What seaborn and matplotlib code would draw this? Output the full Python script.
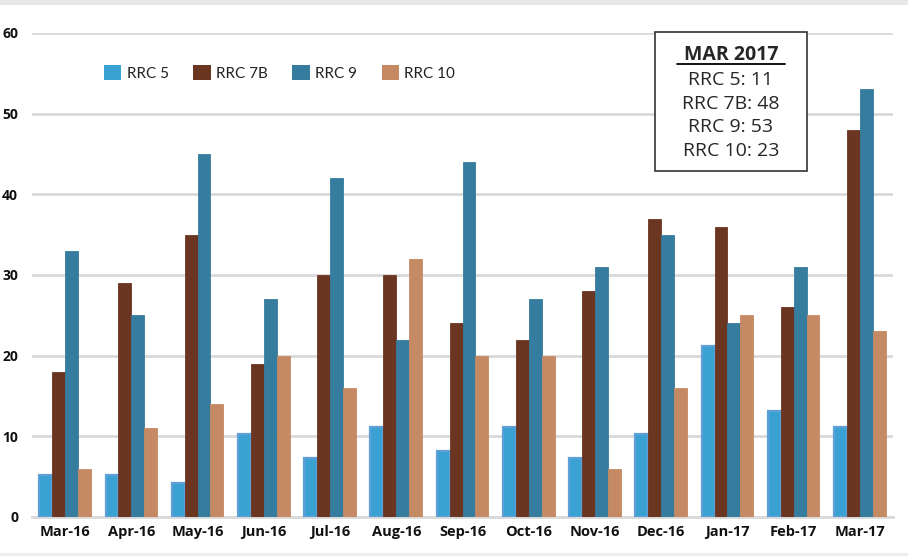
import matplotlib
matplotlib.use("Agg")
import matplotlib.pyplot as plt
import seaborn as sns
import pandas as pd
from matplotlib.patches import Patch

months = ["Mar-16", "Apr-16", "May-16", "Jun-16", "Jul-16", "Aug-16", "Sep-16",
          "Oct-16", "Nov-16", "Dec-16", "Jan-17", "Feb-17", "Mar-17"]
rrc5 = [5.2, 5.2, 4.2, 10.3, 7.3, 11.1, 8.2, 11.1, 7.3, 10.3, 21.2, 13.2, 11.1]
rrc7b = [18, 29, 35, 19, 30, 30, 24, 22, 28, 37, 36, 26, 48]
rrc9 = [33, 25, 45, 27, 42, 22, 44, 27, 31, 35, 24, 31, 53]
rrc10 = [6, 11, 14, 20, 16, 32, 20, 20, 6, 16, 25, 25, 23]
series_names = ["RRC 5", "RRC 7B", "RRC 9", "RRC 10"]
yticks = [0, 10, 20, 30, 40, 50, 60]

rows = []
for name, vals in zip(series_names, [rrc5, rrc7b, rrc9, rrc10]):
    for m, v in zip(months, vals):
        rows.append({"Month": m, "Series": name, "Value": v})
df = pd.DataFrame(rows)

sns.set_style("white")
plt.rcParams["font.family"] = ["Open Sans", "DejaVu Sans"]

colors = ["#3aa2d2", "#6a3621", "#367c9e", "#c58a64"]
edges = ["#5f9fd8", "#6a3621", "#367c9e", "#c58a64"]

fig = plt.figure(figsize=(9.08, 5.56), dpi=100)
ax = fig.add_axes([32 / 908, 39 / 556, 861 / 908, 484 / 556])

sns.barplot(data=df, x="Month", y="Value", hue="Series", order=months,
            hue_order=series_names, palette=colors, width=0.78, gap=0,
            saturation=1, ax=ax, legend=False, zorder=3)

for cont, ec in zip(ax.containers, edges):
    for p in cont:
        p.set_edgecolor(ec)
        p.set_linewidth(1.6 if ec == edges[0] else 0.6)

ax.set_xlim(-0.5, len(months) - 0.5)
ax.set_ylim(0, 60)
ax.set_yticks(yticks)
ax.set_yticklabels([str(t) for t in yticks], fontweight="bold", fontsize=10, color="#111111")
ax.grid(axis="y", color="#d9d9d9", linewidth=2, zorder=0)
ax.set_axisbelow(True)
for s in ["top", "right", "left"]:
    ax.spines[s].set_visible(False)
ax.spines["bottom"].set_color("#d9d9d9")
ax.spines["bottom"].set_linewidth(2)
ax.tick_params(axis="y", length=0, pad=10)
ax.tick_params(axis="x", length=0, pad=6)
ax.set_xticks(range(len(months)))
ax.set_xticklabels(months, fontweight="bold", fontsize=10.5, color="#111111")
ax.set_xticks([i - 0.5 for i in range(len(months) + 1)], minor=True)
ax.tick_params(axis="x", which="minor", length=4, color="#d9d9d9", width=1.5)
ax.set_xlabel("")
ax.set_ylabel("")

# legend
handles = [Patch(facecolor=c, edgecolor="none") for c in colors]
leg = ax.legend(handles, series_names, loc="center left",
                bbox_to_anchor=(58 / 861, (517 - 73) / 484),
                ncol=4, frameon=False, prop={"family": "Lato", "size": 11},
                handlelength=1.15, handleheight=1.15,
                columnspacing=1.6, handletextpad=0.35, labelcolor="#222222")

# annotation box
fig.patches.append(plt.Rectangle((655 / 908, 1 - 171 / 556), 152 / 908, 139 / 556,
                                 transform=fig.transFigure, facecolor="white",
                                 edgecolor="#333333", linewidth=1.2, zorder=10))
fig.text(731 / 908, 1 - 55 / 556, "MAR 2017", ha="center", va="center", fontsize=14,
         fontweight="bold", zorder=11)
fig.add_artist(plt.Line2D([677 / 908, 785 / 908], [1 - 64 / 556, 1 - 64 / 556],
                          transform=fig.transFigure, color="black", linewidth=1.3, zorder=11))
lines = ["RRC 5: 11", "RRC 7B: 48", "RRC 9: 53", "RRC 10: 23"]
for i, t in enumerate(lines):
    fig.text(731 / 908, 1 - (80 + i * 23.7) / 556, t, ha="center", va="center",
             fontsize=14, zorder=11)

# top and bottom strips
fig.patches.append(plt.Rectangle((0, 1 - 5 / 556), 1, 5 / 556, transform=fig.transFigure,
                                 facecolor="#e6e7e9", edgecolor="none"))
fig.patches.append(plt.Rectangle((0, 0), 1, 3 / 556, transform=fig.transFigure,
                                 facecolor="#eeeeef", edgecolor="none"))

fig.savefig("out.png", dpi=100)
